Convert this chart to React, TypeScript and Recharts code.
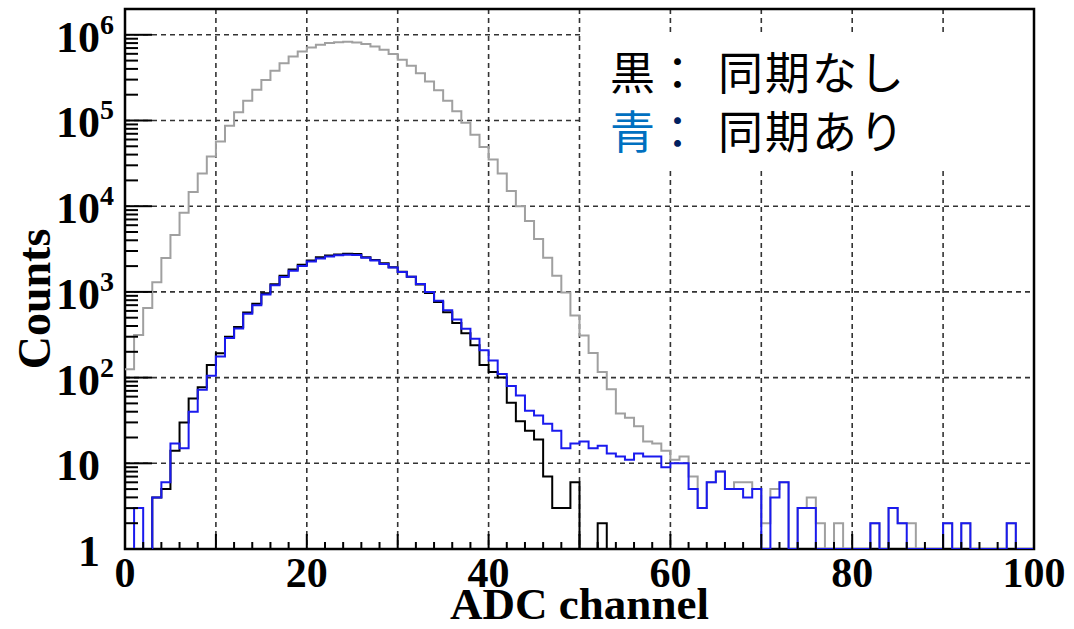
import React from 'react';
import { LineChart, Line, XAxis, YAxis, CartesianGrid, ReferenceArea, Label } from 'recharts';

// counts per ADC channel (bins 0..99)
const COUNTS_ALL = [
  125, 315, 650, 1300, 2480, 4600, 8400, 14600, 24000, 38000,
  57000, 87000, 125000, 170000, 229000, 296000, 380000, 465000, 560000, 640000,
  710000, 765000, 800000, 820000, 830000, 815000, 780000, 730000, 670000, 596000,
  512000, 436000, 357000, 286000, 225000, 170000, 128000, 94000, 68000, 49000,
  35000, 24000, 15000, 10000, 6700, 4150, 2500, 1540, 985, 530,
  310, 194, 116, 73, 38, 34, 27, 18, 17, 14,
  11, 12, 7, 3, 6, 8, 5, 6, 6, 5,
  2, 5, 6, 0, 3, 4, 2, 0, 2, 0,
  0, 0, 2, 0, 3, 2, 2, 0, 0, 0,
  2, 0, 2, 0, 0, 0, 0, 2, 0, 0,
];

const COUNTS_NO_SYNC = [
  0, 0, 0, 4, 5, 14, 30, 57, 77, 140,
  192, 300, 390, 575, 725, 965, 1230, 1540, 1820, 2070,
  2330, 2530, 2660, 2740, 2780, 2760, 2540, 2360, 2155, 1945,
  1720, 1500, 1220, 970, 760, 580, 435, 330, 238, 140,
  116, 100, 51, 31, 24, 19, 7, 3, 3, 6,
  0, 0, 2, 0, 0, 0, 0, 0, 0, 0,
  0, 0, 0, 0, 0, 0, 0, 0, 0, 0,
  0, 0, 0, 0, 0, 0, 0, 0, 0, 0,
  0, 0, 0, 0, 0, 0, 0, 0, 0, 0,
  0, 0, 0, 0, 0, 0, 0, 0, 0, 0,
];

const COUNTS_SYNC = [
  0, 3, 0, 4, 6, 17, 15, 40, 72, 105,
  176, 290, 375, 555, 700, 935, 1195, 1495, 1770, 2010,
  2260, 2460, 2590, 2670, 2710, 2700, 2510, 2320, 2120, 1920,
  1710, 1500, 1240, 1000, 790, 610, 477, 371, 284, 209,
  158, 110, 80, 62, 41, 36, 29, 24, 15, 17,
  18, 15, 16, 13, 12, 11, 13, 12, 12, 9,
  10, 10, 5, 3, 6, 8, 5, 5, 4, 5,
  0, 4, 6, 0, 3, 3, 0, 0, 0, 0,
  0, 0, 2, 0, 3, 2, 0, 0, 0, 0,
  2, 0, 2, 0, 0, 0, 0, 2, 0, 0,
];

const X_LABELS = [0, 20, 40, 60, 80, 100];
const X_GRID = [10, 20, 30, 40, 50, 60, 70, 80, 90];
const DECADES = [1, 10, 100, 1000, 10000, 100000, 1000000];
const MINOR_STEPS = [2, 3, 4, 5, 6, 7, 8, 9];
const Y_MAX = 2000000;

const X_TICKS = Array.from({ length: 51 }, (_, i) => i * 2);
const Y_TICKS = DECADES.flatMap((d) => [d, ...MINOR_STEPS.map((m) => m * d)]).filter((v) => v <= Y_MAX);

const NBINS = COUNTS_ALL.length;
// step histogram: one point per bin low edge, plus the closing edge at 100; empty bins sit on the axis (1)
const data = Array.from({ length: NBINS + 1 }, (_, i) => {
  const b = Math.min(i, NBINS - 1);
  return {
    ch: i,
    all: Math.max(COUNTS_ALL[b], 1),
    noSync: Math.max(COUNTS_NO_SYNC[b], 1),
    sync: Math.max(COUNTS_SYNC[b], 1),
  };
});

const SERIF = '"Liberation Serif", "Times New Roman", serif';
const CJK = '"Noto Sans CJK JP", "Noto Sans", sans-serif';

const XTick = (props: any) => {
  const { x, y, payload } = props;
  const v = payload.value;
  const len = v % 10 === 0 ? 15 : 7;
  return (
    <g>
      <line x1={x} x2={x} y1={y} y2={y - len} stroke="#000" strokeWidth={2} />
      {X_LABELS.includes(v) && (
        <text x={x} y={y + 38} textAnchor="middle" fontFamily={SERIF} fontWeight="bold" fontSize={42} fill="#000">
          {v}
        </text>
      )}
    </g>
  );
};

const YTick = (props: any) => {
  const { x, y, payload } = props;
  const v = payload.value;
  const exp = DECADES.indexOf(v);
  const isDecade = exp >= 0;
  return (
    <g>
      <line x1={x} x2={x + (isDecade ? 27 : 13)} y1={y} y2={y} stroke="#000" strokeWidth={2} />
      {isDecade && (
        <g fontFamily={SERIF} fontWeight="bold" fill="#000">
          <text x={x - 25} y={y + 17} textAnchor="end" fontSize={44}>
            {exp === 0 ? '1' : '10'}
          </text>
          {exp > 1 && (
            <text x={x - 25} y={y - 1} textAnchor="start" fontSize={28}>
              {exp}
            </text>
          )}
        </g>
      )}
    </g>
  );
};

const XTitle = (props: any) => {
  const vb = props.viewBox;
  return (
    <text x={vb.x + vb.width / 2} y={vb.y + 70} textAnchor="middle" fontFamily={SERIF} fontWeight="bold" fontSize={45} fill="#000">
      ADC channel
    </text>
  );
};

const YTitle = (props: any) => {
  const vb = props.viewBox;
  const cy = vb.y + vb.height / 2 + 20;
  return (
    <text x={50} y={cy} transform={`rotate(-90, 50, ${cy})`} textAnchor="middle" fontFamily={SERIF} fontWeight="bold" fontSize={46} fill="#000">
      Counts
    </text>
  );
};

const legendRow: React.CSSProperties = {
  position: 'absolute',
  fontFamily: CJK,
  fontSize: 45,
  lineHeight: '45px',
  whiteSpace: 'nowrap',
};

export default function App() {
  return (
    <div style={{ position: 'absolute', left: 0, top: 0, width: 1074, height: 629, background: '#fff' }}>
      <LineChart width={1074} height={629} data={data} margin={{ top: 9, right: 40, left: 0, bottom: 0 }}>
        <CartesianGrid
          stroke="#333"
          strokeWidth={1.6}
          strokeDasharray="5 4"
          horizontalValues={DECADES.slice(1)}
          verticalValues={X_GRID}
        />
        <XAxis
          dataKey="ch"
          type="number"
          domain={[0, 100]}
          ticks={X_TICKS}
          interval={0}
          tick={<XTick />}
          tickLine={false}
          axisLine={false}
          tickSize={0}
          tickMargin={0}
          height={80}
          allowDataOverflow
        >
          <Label content={<XTitle />} />
        </XAxis>
        <YAxis
          type="number"
          scale="log"
          domain={[1, Y_MAX]}
          ticks={Y_TICKS}
          interval={0}
          tick={<YTick />}
          tickLine={false}
          axisLine={false}
          tickSize={0}
          tickMargin={0}
          width={125}
          allowDataOverflow
        >
          <Label content={<YTitle />} />
        </YAxis>
        <Line type="stepAfter" dataKey="all" stroke="#a0a0a0" strokeWidth={2} dot={false} activeDot={false} isAnimationActive={false} />
        <Line type="stepAfter" dataKey="noSync" stroke="#000" strokeWidth={2} dot={false} activeDot={false} isAnimationActive={false} />
        <Line type="stepAfter" dataKey="sync" stroke="#1a1aee" strokeWidth={2} dot={false} activeDot={false} isAnimationActive={false} />
        <ReferenceArea x1={0} x2={100} y1={1} y2={Y_MAX} fill="none" fillOpacity={0} stroke="#000" strokeWidth={2.5} ifOverflow="visible" />
      </LineChart>
      <div style={{ position: 'absolute', left: 583, top: 33, width: 449, height: 134, background: '#fff' }}>
        <div style={{ ...legendRow, left: 27, top: 15 }}>
          <span style={{ color: '#000' }}>黒：</span>
        </div>
        <div style={{ ...legendRow, left: 135, top: 15, color: '#000', letterSpacing: 2 }}>同期なし</div>
        <div style={{ ...legendRow, left: 27, top: 74 }}>
          <span style={{ color: '#0070c0' }}>青</span>
          <span style={{ color: '#002060' }}>：</span>
        </div>
        <div style={{ ...legendRow, left: 135, top: 74, color: '#000', letterSpacing: 2 }}>同期あり</div>
      </div>
    </div>
  );
}
